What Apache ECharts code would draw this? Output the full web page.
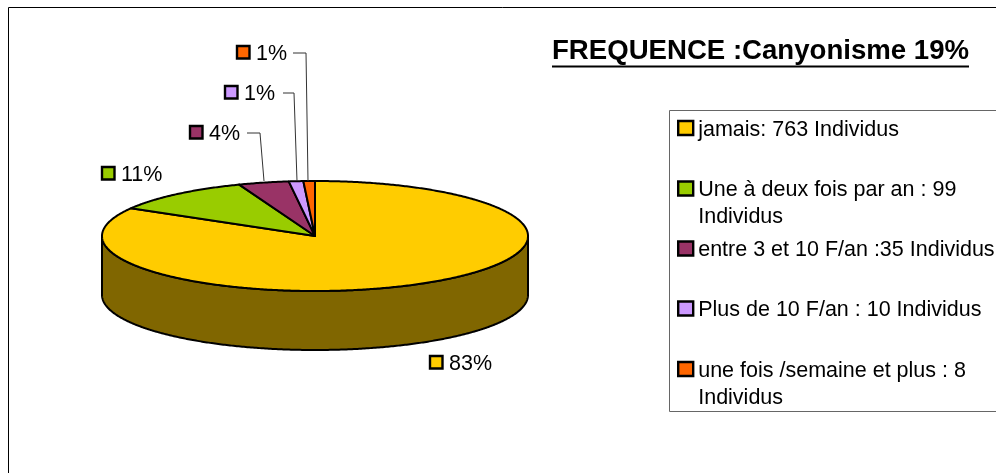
<!DOCTYPE html>
<html>
<head>
<meta charset="utf-8">
<style>html,body{margin:0;padding:0;background:#fff}#c{width:996px;height:473px}</style>
<script src="https://cdn.jsdelivr.net/npm/echarts@6/dist/echarts.min.js"></script>
</head>
<body>
<div id="c"></div>
<script>
// ---- data ----
const categories = [
  'jamais: 763 Individus',
  'Une à deux fois par an : 99\nIndividus',
  'entre 3 et 10 F/an :35 Individus',
  'Plus de 10 F/an : 10 Individus',
  'une fois /semaine et plus : 8\nIndividus'
];
const individus = [763, 99, 35, 10, 8];
const colors = ['#FFCC00', '#99CC00', '#993366', '#CC99FF', '#FF6600'];
const titleText = 'FREQUENCE :Canyonisme 19%';

// ---- layout ----
const FONT = '"Liberation Sans", Arial, sans-serif';
const PIE = {cx: 315, cy: 236, rx: 213, ry: 55, depth: 59};
const WALL_COLOR = '#806600';
const labelSpots = [
  {x: 429, y: 355},
  {x: 101, y: 166},
  {x: 189, y: 125},
  {x: 224, y: 85},
  {x: 236, y: 45}
];
const leaders = [
  null,
  null,
  [[247, 133], [260, 133], [264, 181]],
  [[283, 93], [294, 93], [297, 181]],
  [[293, 53], [306, 53], [308, 181]]
];
const legendCentres = [129.5, 190, 250, 310, 370.5];

const total = individus.reduce((a, b) => a + b, 0);
const startFrac = individus.map((_, i) => individus.slice(0, i).reduce((a, b) => a + b, 0) / total);

function rimPoint(deg, dy) {
  const r = deg * Math.PI / 180;
  return [PIE.cx + PIE.rx * Math.sin(r), PIE.cy - PIE.ry * Math.cos(r) + (dy || 0)];
}
function arc(a0, a1, dy) {
  const pts = [];
  const n = Math.max(2, Math.ceil((a1 - a0) * 2));
  for (let k = 0; k <= n; k++) pts.push(rimPoint(a0 + (a1 - a0) * k / n, dy));
  return pts;
}

function renderSlice(i) {
  return function (params, api) {
    const value = api.value(0);
    const a0 = startFrac[i] * 360;
    const a1 = a0 + value / total * 360;
    const children = [];
    const stroke = {stroke: '#000', lineWidth: 2, lineJoin: 'round'};
    const w0 = Math.max(a0, 90), w1 = Math.min(a1, 270);
    if (w1 > w0) {
      children.push({
        type: 'polygon',
        shape: {points: arc(w0, w1, 0).concat(arc(w0, w1, PIE.depth).reverse())},
        style: Object.assign({fill: WALL_COLOR}, stroke)
      });
    }
    children.push({
      type: 'polygon',
      shape: {points: [[PIE.cx, PIE.cy]].concat(arc(a0, a1, 0))},
      style: Object.assign({fill: colors[i]}, stroke)
    });
    const spot = labelSpots[i];
    children.push({
      type: 'rect',
      shape: {x: spot.x + 1, y: spot.y + 1, width: 12.5, height: 12.5},
      style: {fill: colors[i], stroke: '#000', lineWidth: 2.4}
    });
    children.push({
      type: 'text',
      x: spot.x + 20,
      y: spot.y + 9,
      style: {
        text: Math.round(value / total * 100) + '%',
        font: '21.5px ' + FONT,
        fill: '#000',
        verticalAlign: 'middle',
        align: 'left'
      }
    });
    if (leaders[i]) {
      children.push({
        type: 'polyline',
        shape: {points: leaders[i]},
        style: {fill: null, stroke: '#333', lineWidth: 1}
      });
    }
    return {type: 'group', children};
  };
}

const series = categories.map((name, i) => ({
  type: 'custom',
  name,
  coordinateSystem: 'none',
  silent: true,
  animation: false,
  clip: false,
  itemStyle: {color: colors[i]},
  data: [[individus[i]]],
  renderItem: renderSlice(i)
}));

const LINE_H = 27;
const TEXT_DROP = 4;
const legends = categories.map((name, i) => {
  const multi = name.indexOf('\n') >= 0;
  const boxH = TEXT_DROP + (multi ? 3 : 1) * LINE_H;
  return {
    left: 677,
    top: legendCentres[i] - boxH / 2,
    padding: 0,
    icon: 'rect',
    itemWidth: 15,
    itemHeight: 14,
    selectedMode: false,
    data: [name],
    itemStyle: {color: colors[i], borderColor: '#000', borderWidth: 2.4},
    formatter: n => '{s| }\n' + (multi ? [' '].concat(n.split('\n')) : [n]).map(s => '{t|' + s + '}').join('\n'),
    textStyle: {
      fontFamily: FONT, fontSize: 21.5, color: '#000',
      rich: {
        s: {fontSize: 1, lineHeight: TEXT_DROP},
        t: {fontFamily: FONT, fontSize: 21.5, color: '#000', lineHeight: LINE_H}
      }
    }
  };
});

const chart = echarts.init(document.getElementById('c'), null, {renderer: 'canvas'});
chart.setOption({
  animation: false,
  backgroundColor: '#fff',
  title: {
    text: titleText,
    left: 552,
    top: 37,
    padding: 0,
    textStyle: {fontFamily: FONT, fontSize: 27.6, fontWeight: 'bold', color: '#000'}
  },
  legend: legends,
  series,
  graphic: [
    {type: 'polyline', z: -1, silent: true,
     shape: {points: [[8.5, 480], [8.5, 7.5], [1000, 7.5]]},
     style: {fill: null, stroke: '#000', lineWidth: 1}},
    {type: 'rect', z: -1, silent: true,
     shape: {x: 669.5, y: 110.5, width: 340, height: 301},
     style: {fill: '#fff', stroke: '#666', lineWidth: 1}},
    {type: 'line', z: 5, silent: true,
     shape: {x1: 552, y1: 66.5, x2: 969, y2: 66.5},
     style: {stroke: '#000', lineWidth: 2}}
  ]
});
</script>
</body>
</html>
